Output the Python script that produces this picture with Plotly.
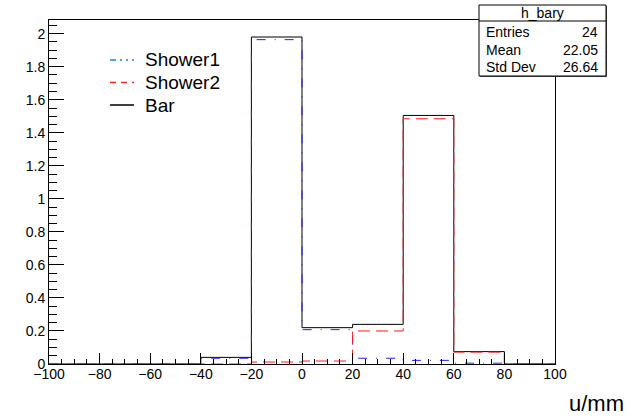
import plotly.graph_objects as go

# ---- data ----
bin_edges = [-100, -80, -60, -40, -20, 0, 20, 40, 60, 80, 100]
bar_vals = [0.0, 0.0, 0.0, 0.04, 1.98, 0.22, 0.24, 1.505, 0.075, 0.0]
shower1_vals = [0.0, 0.0, 0.0, 0.035, 1.964, 0.208, 0.035, 0.022, 0.005, 0.0]
shower2_vals = [0.0, 0.0, 0.0, 0.0, 0.012, 0.018, 0.2, 1.485, 0.072, 0.003]
x_tickvals = [-100, -80, -60, -40, -20, 0, 20, 40, 60, 80, 100]
y_tickvals = [0, 0.2, 0.4, 0.6, 0.8, 1.0, 1.2, 1.4, 1.6, 1.8, 2.0]
y_ticktext = ["0", "0.2", "0.4", "0.6", "0.8", "1", "1.2", "1.4", "1.6", "1.8", "2"]
stats_title = "h_bary"
stats_labels = ["Entries", "Mean", "Std Dev"]
stats_values = ["24", "22.05", "26.64"]
legend_names = ["Shower1", "Shower2", "Bar"]
x_title = "u/mm"

# ---- geometry (pixels) ----
WIDTH, HEIGHT = 634, 419
L, R, T, B = 49, 555, 20, 364
PW, PH = R - L, B - T


def px(x):
    return (x - L) / PW


def py(y):
    return (B - y) / PH


FONT = "Liberation Sans, Arial, Helvetica, sans-serif"

fig = go.Figure()

styles = {
    "Bar": dict(color="black", width=1, dash="solid"),
    "Shower1": dict(color="#2020ff", width=1, dash="9px,9px,1px,9px"),
    "Shower2": dict(color="#ff1a1a", width=1, dash="12px,6px"),
}

for name, vals in [("Bar", bar_vals), ("Shower1", shower1_vals), ("Shower2", shower2_vals)]:
    fig.add_trace(go.Scatter(
        x=bin_edges,
        y=vals + [vals[-1]],
        mode="lines",
        line=dict(shape="hv", **styles[name]),
        name=name,
        showlegend=False,
        hoverinfo="skip",
    ))

shapes = []
annotations = []

# manual legend
legend_rows = [60, 82.5, 105]
legend_styles = [
    dict(color="#1e7fe0", width=1.5, dash="6px,4px,2px,4px,2px,4px"),
    dict(color="#ff2020", width=1.5, dash="6px,5px"),
    dict(color="black", width=1.5, dash="solid"),
]
for row, name, st in zip(legend_rows, legend_names, legend_styles):
    shapes.append(dict(type="line", xref="paper", yref="paper",
                       x0=px(110), x1=px(134), y0=py(row), y1=py(row),
                       line=st, layer="above"))
    annotations.append(dict(xref="paper", yref="paper", x=px(143), y=py(row),
                            text=name, showarrow=False, xanchor="left", yanchor="middle",
                            font=dict(family=FONT, size=19, color="black")))

# stats box
bx0, bx1, by0, by1 = 479, 606, 5, 76
shapes.append(dict(type="rect", xref="paper", yref="paper",
                   x0=px(bx0 + 1), x1=px(bx1 + 1), y0=py(by1 + 1), y1=py(by0 + 1),
                   fillcolor="#555555", line=dict(width=0), layer="above"))
shapes.append(dict(type="rect", xref="paper", yref="paper",
                   x0=px(bx0), x1=px(bx1), y0=py(by1), y1=py(by0),
                   fillcolor="white", line=dict(color="black", width=1), layer="above"))
shapes.append(dict(type="line", xref="paper", yref="paper",
                   x0=px(bx0), x1=px(bx1), y0=py(21), y1=py(21),
                   line=dict(color="black", width=1), layer="above"))
annotations.append(dict(xref="paper", yref="paper", x=px((bx0 + bx1) / 2), y=py(13),
                        text=stats_title, showarrow=False, xanchor="center", yanchor="middle",
                        font=dict(family=FONT, size=14, color="black")))
for row, lab, val in zip([32.5, 49.5, 66.5], stats_labels, stats_values):
    annotations.append(dict(xref="paper", yref="paper", x=px(484), y=py(row),
                            text=lab, showarrow=False, xanchor="left", yanchor="middle",
                            font=dict(family=FONT, size=14, color="black")))
    annotations.append(dict(xref="paper", yref="paper", x=px(600), y=py(row),
                            text=val, showarrow=False, xanchor="right", yanchor="middle",
                            font=dict(family=FONT, size=14, color="black")))

# axis title
annotations.append(dict(xref="paper", yref="paper", x=px(626), y=py(403),
                        text=x_title, showarrow=False, xanchor="right", yanchor="middle",
                        font=dict(family=FONT, size=22, color="black")))

fig.update_layout(
    width=WIDTH, height=HEIGHT, autosize=False,
    margin=dict(l=L, r=WIDTH - R, t=T, b=HEIGHT - B, pad=0),
    paper_bgcolor="white", plot_bgcolor="white",
    font=dict(family=FONT, size=14, color="black"),
    shapes=shapes, annotations=annotations,
    showlegend=False,
)
fig.update_xaxes(
    range=[-100, 100], tickvals=x_tickvals, ticks="inside", ticklen=11, tickwidth=1,
    tickcolor="black", showline=True, linecolor="black", linewidth=1, mirror=True,
    showgrid=False, zeroline=False, tickfont=dict(family=FONT, size=14),
    ticklabelstandoff=-3,
    minor=dict(dtick=5, tick0=0, ticks="inside", ticklen=5, tickcolor="black", showgrid=False),
)
fig.update_yaxes(
    range=[0, 2.083], tickvals=y_tickvals, ticktext=y_ticktext, ticks="inside", ticklen=15,
    tickwidth=1, tickcolor="black", showline=True, linecolor="black", linewidth=1, mirror=True,
    showgrid=False, zeroline=False, tickfont=dict(family=FONT, size=14),
    minor=dict(dtick=0.05, tick0=0, ticks="inside", ticklen=8, tickcolor="black", showgrid=False),
)

fig.write_html("out.html")
